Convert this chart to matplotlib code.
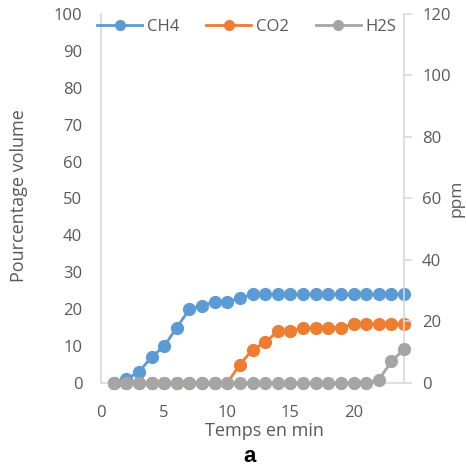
import matplotlib
matplotlib.use("Agg")
import matplotlib.pyplot as plt

plt.rcParams['font.family'] = ['Open Sans', 'DejaVu Sans']

# données
temps = list(range(1, 25))
ch4 = [0, 1, 3, 7, 10, 15, 20, 21, 22, 22, 23, 24, 24, 24, 24, 24, 24, 24, 24, 24, 24, 24, 24, 24]
co2 = [0, 0, 0, 0, 0, 0, 0, 0, 0, 0, 5, 9, 11, 14, 14, 15, 15, 15, 15, 16, 16, 16, 16, 16]
h2s = [0, 0, 0, 0, 0, 0, 0, 0, 0, 0, 0, 0, 0, 0, 0, 0, 0, 0, 0, 0, 0, 1, 7, 11]
x_ticks = [0, 5, 10, 15, 20]
y_ticks = list(range(0, 101, 10))
y2_ticks = list(range(0, 121, 20))

c_ch4 = '#5B9BD5'
c_co2 = '#ED7D31'
c_h2s = '#A5A5A5'
txt = '#595959'
axc = '#D9D9D9'

W, H = 466, 467
fig = plt.figure(figsize=(W / 100, H / 100), dpi=100)
ax = fig.add_axes([101 / W, 1 - 383 / H, (404 - 101) / W, (383 - 14) / H])
ax2 = ax.twinx()

kw = dict(marker='o', markersize=8.5, linewidth=2, clip_on=False)
l1, = ax.plot(temps, ch4, color=c_ch4, label='CH4', zorder=3, **kw)
l2, = ax.plot(temps, co2, color=c_co2, label='CO2', zorder=4, **kw)
l3, = ax2.plot(temps, h2s, color=c_h2s, label='H2S', zorder=5, **kw)

ax.set_xlim(0, 24)
ax.set_ylim(0, 100)
ax2.set_ylim(0, 120)
ax.set_xticks(x_ticks)
ax.set_yticks(y_ticks)
ax2.set_yticks(y2_ticks)

for a in (ax, ax2):
    for s in a.spines.values():
        s.set_color(axc)
        s.set_linewidth(1.2)
    a.spines['top'].set_visible(False)
ax.spines['right'].set_visible(False)
ax2.spines['left'].set_visible(False)
ax2.spines['bottom'].set_visible(False)

ax.tick_params(axis='x', length=0, pad=16, labelsize=12, labelcolor=txt)
ax.tick_params(axis='y', length=0, pad=13.5, labelsize=12, labelcolor=txt)
ax2.tick_params(axis='y', length=6, width=1.2, color=axc, pad=7, labelsize=12, labelcolor=txt)

fig.text(19 / W, 1 - 196 / H, 'Pourcentage volume', rotation=90, ha='center', va='center',
         fontsize=13, color=txt)
fig.text(456 / W, 1 - 198 / H, 'ppm', rotation=90, ha='center', va='center',
         fontsize=12.5, color=txt)
fig.text(264 / W, 1 - 431 / H, 'Temps en min', ha='center', va='center', fontsize=13, color=txt)
fig.text(250 / W, 1 - 456 / H, 'a', ha='center', va='center', fontsize=16, fontweight='bold',
         family=['Liberation Sans', 'DejaVu Sans'], color='black')

leg = ax2.legend(handles=[l1, l2, l3], loc='center', bbox_to_anchor=(247 / W, 1 - 27 / H),
                 bbox_transform=fig.transFigure, ncol=3, frameon=False, handlelength=2.7,
                 columnspacing=1.6, handletextpad=0.3, fontsize=12)
for t in leg.get_texts():
    t.set_color(txt)
for h in leg.legend_handles:
    h.set_markersize(7)

fig.savefig('out.png', dpi=100)
